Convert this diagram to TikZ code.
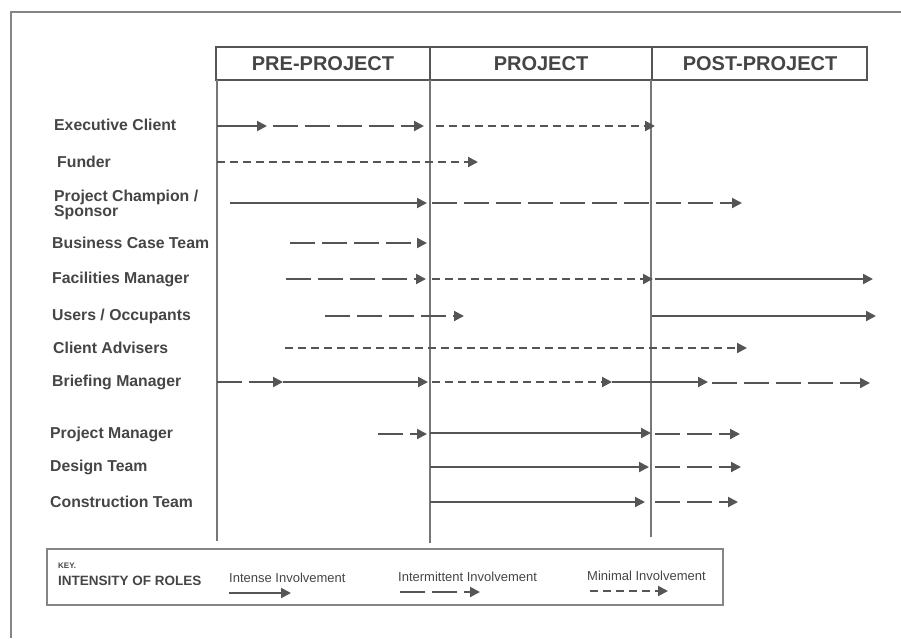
\documentclass[tikz,border=0pt]{standalone}
\usepackage{fontspec}
\setmainfont{Liberation Sans}
\usetikzlibrary{arrows.meta}
\definecolor{ink}{HTML}{454545}
\definecolor{rule}{HTML}{555555}
\definecolor{frame}{HTML}{858585}
\tikzset{
    role/.style={anchor=west, inner sep=0pt, align=left, text=ink,
        font=\fontsize{15.8}{15}\selectfont\bfseries},
    phase/.style={text=ink, font=\fontsize{20}{20}\selectfont\bfseries},
    keytext/.style={anchor=west, inner sep=0pt, text=ink,
        font=\fontsize{13}{13}\selectfont},
    flow/.style={rule, line width=2pt, -{Triangle[length=10pt,width=10pt]}},
    intense/.style={flow},
    intermittent/.style={flow, dash pattern=on 25pt off 7pt},
    minimal/.style={flow, dash pattern=on 8pt off 5pt},
}
\begin{document}
\begin{tikzpicture}[x=1pt, y=-1pt]
    \useasboundingbox (0,0) rectangle (901,638);
    \draw[frame, line width=1.5pt] (11,638) -- (11,12) -- (901,12);
    % phases
    \draw[rule, line width=1.8pt] (216,47) rectangle (867,80);
    \draw[rule, line width=1.8pt] (430,47) -- (430,80) (652,47) -- (652,80);
    \node[phase] (pre) at (323,64) {PRE-PROJECT};
    \node[phase] (proj) at (541,64) {PROJECT};
    \node[phase] (post) at (760,64) {POST-PROJECT};
    \draw[rule!80, line width=1.5pt] (217,80) -- (217,541)
        (430,80) -- (430,543) (651,80) -- (651,537);
    % roles
    \foreach[count=\i] \rname/\rx/\ry in {Executive Client/54/125,
        Funder/57/162, {Project Champion /\\Sponsor}/54/205,
        Business Case Team/52/243, Facilities Manager/52/279,
        {Users / Occupants}/52/316, Client Advisers/53/348,
        Briefing Manager/52/382, Project Manager/50/434,
        Design Team/50/467, Construction Team/50/502} {
        \node[role] (role-\i) at (\rx,\ry) {\rname};
    }
    \draw[intense] (217,126) -- (267,126);
    \draw[intermittent] (273,126) -- (424,126);
    \draw[minimal] (436,126) -- (655,126);
    \draw[minimal] (217,162) -- (478,162);
    \draw[intense] (230,203) -- (427,203);
    \draw[intermittent] (432,203) -- (742,203);
    \draw[intermittent] (290,243) -- (427,243);
    \draw[intermittent] (286,279) -- (426,279);
    \draw[minimal] (432,279) -- (653,279);
    \draw[intense] (655,279) -- (873,279);
    \draw[intermittent] (325,316) -- (464,316);
    \draw[intense] (652,316) -- (876,316);
    \draw[minimal] (285,348) -- (747,348);
    \draw[intermittent] (217,382) -- (283,382);
    \draw[intense] (283,382) -- (428,382);
    \draw[minimal] (432,382) -- (612,382);
    \draw[intense] (612,382) -- (708,382);
    \draw[intermittent] (712,383) -- (870,383);
    \draw[intermittent] (378,434) -- (427,434);
    \draw[intense] (430,433) -- (651,433);
    \draw[intermittent] (655,434) -- (740,434);
    \draw[intense] (430,467) -- (649,467);
    \draw[intermittent] (655,467) -- (741,467);
    \draw[intense] (430,502) -- (645,502);
    \draw[intermittent] (655,502) -- (738,502);
    % key
    \draw[frame, line width=1.5pt] (47,549) rectangle (723,605);
    \node[keytext, font=\fontsize{8}{8}\selectfont\bfseries] (key) at (58,566) {KEY.};
    \node[keytext, font=\fontsize{13.5}{13.5}\selectfont\bfseries] (keytitle)
        at (58,581) {INTENSITY OF ROLES};
    \node[keytext] (key-intense) at (229,578) {Intense Involvement};
    \node[keytext] (key-intermittent) at (398,577) {Intermittent Involvement};
    \node[keytext] (key-minimal) at (587,576) {Minimal Involvement};
    \draw[intense] (229,593) -- (291,593);
    \draw[intermittent] (400,592) -- (480,592);
    \draw[minimal] (590,591) -- (668,591);
\end{tikzpicture}
\end{document}
